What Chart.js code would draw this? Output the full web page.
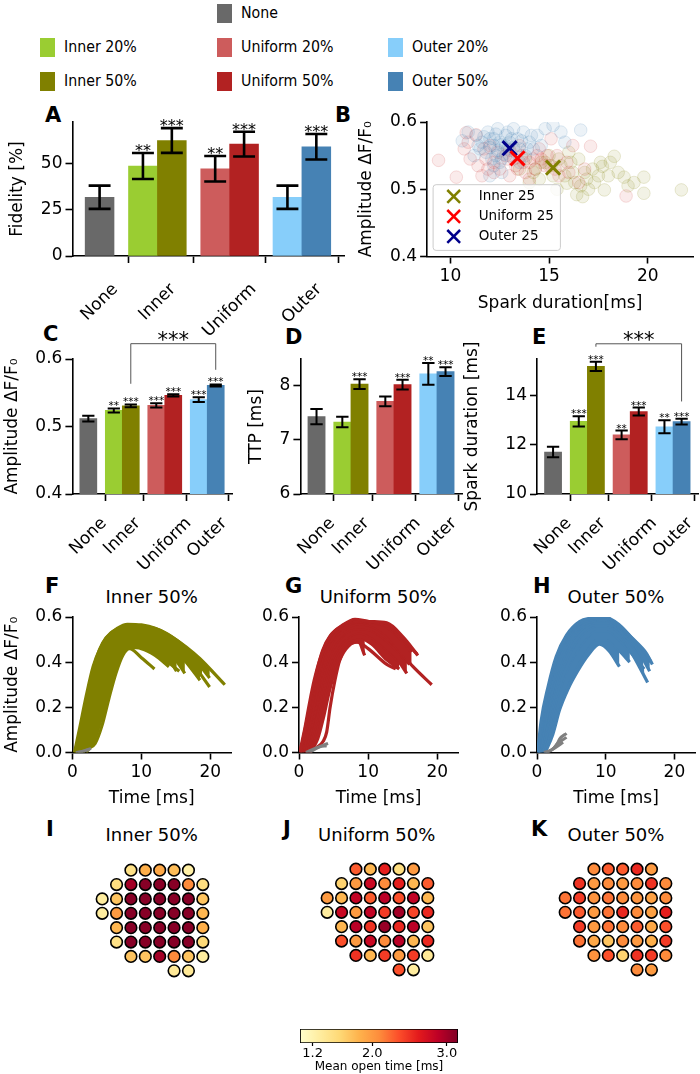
<!DOCTYPE html>
<html>
<head>
<meta charset="utf-8">
<title>Spark summary figure</title>
<script src="https://cdn.jsdelivr.net/npm/chart.js@4.4.1/dist/chart.umd.min.js"></script>
<style>
  html, body { margin: 0; padding: 0; background: #fff; }
  #page { position: relative; width: 700px; height: 1074px; overflow: hidden; font-family: "DejaVu Sans", sans-serif; color: #000; }
  #page canvas { position: absolute; }
  .t { position: absolute; white-space: nowrap; line-height: 1; }
  .sw { position: absolute; width: 15px; height: 19px; }
</style>
</head>
<body>
<div id="page"></div>
<script>
// ---------- data ----------
const legendNames = ["None", "Inner 20%", "Uniform 20%", "Outer 20%", "Inner 50%", "Uniform 50%", "Outer 50%"];
const legendColors = ["#696969", "#9acd32", "#cd5c5c", "#87cefa", "#808000", "#b22222", "#4682b4"];

const groupLabels = ["None", "Inner", "Uniform", "Outer"];
const groupPos = [-0.8, 0, 1, 2];
const barPos = [-0.8, -0.2, 0.2, 0.8, 1.2, 1.8, 2.2];
const barColors = ["#696969", "#9acd32", "#808000", "#cd5c5c", "#b22222", "#87cefa", "#4682b4"];

const fidelity = [31.8, 48.7, 62.5, 47.2, 60.5, 31.8, 59.1];
const fidelityErr = [6.3, 7.0, 6.7, 6.9, 6.7, 6.3, 6.9];
const fidelityStars = ["", "**", "***", "**", "***", "", "***"];

const amplitude = [0.5116, 0.5238, 0.5307, 0.5313, 0.5461, 0.5398, 0.5609];
const amplitudeErr = [0.0042, 0.003, 0.002, 0.0033, 0.0015, 0.0035, 0.0015];
const amplitudeStars = ["", "**", "***", "***", "***", "***", "***"];

const ttp = [7.43, 7.33, 8.03, 7.71, 8.02, 8.22, 8.26];
const ttpErr = [0.14, 0.095, 0.09, 0.09, 0.09, 0.2, 0.08];
const ttpStars = ["", "", "***", "", "***", "**", "***"];

const duration = [11.71, 12.96, 15.2, 12.41, 13.36, 12.74, 12.95];
const durationErr = [0.21, 0.21, 0.185, 0.175, 0.16, 0.26, 0.12];
const durationStars = ["", "***", "***", "**", "***", "**", "***"];

// panel B: spark duration [ms] vs amplitude
const innerCloud = [[13.8,0.545],[14.3,0.53],[14.8,0.54],[15.2,0.52],[15.6,0.535],[15.9,0.509],[16.2,0.525],[16.4,0.492],[16.7,0.489],[16.9,0.515],[17.2,0.53],[17.5,0.52],[17.7,0.534],[17.8,0.499],[18.3,0.549],[18.1,0.54],[18.8,0.518],[19.0,0.505],[19.8,0.518],[19.8,0.494],[21.7,0.499],[16.0,0.555],[15.0,0.55],[14.5,0.515],[16.5,0.545],[17.0,0.5],[15.4,0.5],[13.5,0.53],[18.5,0.525],[14.0,0.51],
  [15.8,0.52],[16.3,0.51],[15.1,0.535],[16.8,0.525],[17.3,0.51],[14.6,0.54],[18.0,0.52],[15.5,0.545],[16.6,0.505],[17.6,0.54],[14.2,0.525],[19.3,0.51],[16.1,0.54]];
const uniformCloud = [[9.4,0.543],[10.3,0.518],[10.8,0.584],[11.3,0.581],[10.7,0.56],[11.0,0.545],[11.4,0.535],[11.8,0.545],[12.2,0.54],[12.5,0.53],[12.9,0.545],[13.3,0.535],[13.6,0.55],[14.0,0.54],[14.3,0.53],[14.6,0.545],[15.0,0.535],[15.4,0.55],[15.9,0.54],[16.2,0.565],[17.1,0.564],[18.9,0.49],[13.0,0.52],[14.0,0.515],[15.5,0.52],[16.5,0.51],[12.0,0.565],[13.5,0.565],[14.5,0.56],[15.1,0.575],[11.6,0.52],[13.8,0.525],[16.8,0.53],
  [12.8,0.55],[13.2,0.545],[13.7,0.54],[14.2,0.545],[14.8,0.535],[12.4,0.555],[13.0,0.558],[11.7,0.56],[14.4,0.55],[15.3,0.53],[13.4,0.53],[12.2,0.525],[14.9,0.55],[10.9,0.57],[11.9,0.53],[16.0,0.525]];
const outerCloud = [[10.6,0.572],[10.9,0.585],[11.3,0.58],[11.6,0.57],[11.9,0.585],[12.2,0.575],[12.4,0.59],[12.6,0.566],[12.8,0.58],[13.0,0.57],[13.2,0.59],[13.4,0.575],[13.7,0.585],[14.0,0.57],[14.4,0.58],[14.8,0.59],[15.2,0.595],[15.6,0.585],[16.6,0.588],[11.8,0.555],[12.3,0.55],[12.6,0.545],[13.0,0.55],[13.3,0.555],[13.8,0.55],[14.2,0.56],[11.5,0.56],[12.0,0.562],[12.9,0.56],[12.2,0.535],[13.5,0.54],[11.2,0.55],[14.6,0.565],[15.8,0.57],[12.0,0.52],[12.6,0.525],
  [12.2,0.565],[12.5,0.57],[12.8,0.565],[13.1,0.575],[12.4,0.558],[12.7,0.552],[13.2,0.562],[12.0,0.575],[11.7,0.578],[13.5,0.56],[12.9,0.585],[12.3,0.582],[13.6,0.572],[11.4,0.565],[14.1,0.58],[12.1,0.545],[13.9,0.56],[12.5,0.54]];
const markerNames = ["Inner 25", "Uniform 25", "Outer 25"];
const markerColors = ["#808000", "#ff0000", "#00008b"];
const markerPoints = [[15.2, 0.532], [13.4, 0.546], [13.0, 0.561]];

// panels F-H: time [ms], amplitude; ordered from earliest to latest rise
const innerTraces = [
  [[0.3,0],[1,0.1],[2,0.25],[3,0.38],[4,0.46],[5,0.51],[6.5,0.55],[8,0.568],[10,0.565],[12,0.55],[14.5,0.51],[16.5,0.467],[18.5,0.415],[22.1,0.3]],
  [[0.4,0],[1.3,0.12],[2.3,0.27],[3.3,0.39],[4.3,0.47],[5.5,0.52],[7,0.55],[8.5,0.56],[10.5,0.555],[12.5,0.535],[15,0.49],[17,0.44],[19.9,0.33]],
  [[0.5,0],[1.4,0.13],[2.4,0.29],[3.4,0.41],[4.4,0.485],[5.6,0.53],[7.2,0.555],[8.8,0.562],[10.8,0.558],[12.8,0.54],[15,0.5],[17,0.45],[18.8,0.4]],
  [[0.6,0],[1.6,0.11],[2.6,0.25],[3.6,0.37],[4.6,0.45],[5.8,0.51],[7.2,0.545],[9,0.555],[11,0.545],[13,0.52],[15,0.47],[17,0.41],[19.9,0.29]],
  [[0.8,0],[1.9,0.1],[2.9,0.23],[3.9,0.35],[4.9,0.44],[6,0.5],[7.5,0.535],[9,0.545],[11,0.535],[13,0.5],[15,0.45],[16.5,0.4],[18.5,0.32]],
  [[1,0],[2.2,0.1],[3.2,0.22],[4.2,0.33],[5.2,0.42],[6.3,0.48],[7.6,0.52],[9.2,0.53],[11,0.515],[13,0.47],[15,0.41],[16.3,0.35]],
  [[1.3,0],[2.5,0.08],[3.5,0.19],[4.5,0.3],[5.5,0.39],[6.6,0.46],[8,0.5],[9.5,0.51],[11.5,0.49],[13.5,0.44],[15.1,0.36]],
  [[1.6,0],[2.8,0.07],[3.8,0.17],[4.8,0.28],[5.8,0.37],[6.8,0.44],[8,0.48],[9.5,0.49],[11.5,0.46],[13.5,0.41],[15.5,0.36]],
  [[2,0],[3.1,0.05],[4.1,0.14],[5.1,0.26],[6.1,0.36],[7.1,0.43],[8.3,0.465],[10,0.46],[12,0.43],[14,0.38]],
  [[2.4,0.02],[3.3,0.04],[4.3,0.12],[5.3,0.24],[6.3,0.35],[7.3,0.43],[8.3,0.46],[10,0.42],[11.9,0.37]]
];
const innerBaseline = [
  [[0.5,0],[1.5,0.005],[2.7,0.018]],
  [[0.8,0],[1.8,0.008],[2.4,0.012]]
];
const uniformTraces = [
  [[0.1,0],[0.8,0.1],[1.5,0.216],[2.2,0.32],[3,0.41],[4.4,0.51],[6.4,0.566],[8.1,0.59],[10.2,0.58],[12.7,0.574],[15.1,0.51],[17.2,0.43]],
  [[0.2,0],[1,0.12],[1.8,0.24],[2.6,0.36],[3.4,0.45],[4.6,0.52],[6.5,0.565],[8.2,0.585],[10.3,0.578],[12.5,0.565],[14.5,0.52],[16.3,0.46],[17.1,0.435]],
  [[0.3,0],[1.1,0.11],[1.9,0.23],[2.7,0.34],[3.5,0.43],[4.8,0.51],[6.6,0.56],[8.3,0.58],[10.5,0.575],[12.5,0.56],[14.5,0.51],[16.3,0.445]],
  [[0.5,0],[1.4,0.11],[2.2,0.22],[3,0.33],[3.8,0.42],[5,0.5],[6.8,0.55],[8.5,0.57],[10.5,0.56],[12.5,0.52],[14.5,0.45],[16.5,0.38],[19.2,0.3]],
  [[0.8,0],[1.7,0.1],[2.5,0.21],[3.3,0.32],[4.2,0.41],[5.3,0.48],[7,0.535],[8.6,0.55],[10.5,0.54],[12.5,0.5],[14.5,0.44],[16,0.39]],
  [[1,0],[2,0.1],[2.8,0.2],[3.6,0.3],[4.5,0.39],[5.6,0.46],[7.1,0.51],[8.7,0.53],[10.5,0.51],[12.5,0.46],[14.5,0.4],[15.6,0.35]],
  [[1.3,0],[2.3,0.08],[3.1,0.18],[3.9,0.28],[4.8,0.37],[5.8,0.44],[7.2,0.49],[8.8,0.505],[10.5,0.48],[12.7,0.41],[14.5,0.37]],
  [[1.6,0],[2.7,0.06],[3.5,0.15],[4.3,0.26],[5.2,0.36],[6.2,0.43],[7.5,0.48],[8.6,0.49],[9.5,0.43]],
  [[2.5,0.02],[3.5,0.05],[4,0.09],[4.5,0.2],[5.2,0.32],[5.9,0.41],[7.3,0.484],[8.3,0.49],[10,0.46],[12.7,0.39],[14,0.37]]
];
const uniformBaseline = [
  [[1,0],[2.5,0.02],[4.2,0.04]],
  [[1.5,0],[3,0.025],[4,0.03]]
];
const outerTraces = [
  [[0.1,0],[0.6,0.14],[1.6,0.29],[2.8,0.425],[4.3,0.52],[6.2,0.58],[8.1,0.596],[9.8,0.6],[12,0.565],[13.9,0.505],[15.9,0.44],[16.8,0.39]],
  [[0.15,0],[0.8,0.15],[1.8,0.3],[3,0.43],[4.5,0.52],[6.4,0.575],[8.2,0.59],[10,0.595],[12,0.56],[14,0.5],[16,0.43],[16.6,0.4]],
  [[0.2,0],[0.9,0.14],[1.9,0.28],[3.1,0.41],[4.6,0.5],[6.5,0.565],[8.3,0.585],[10,0.588],[12,0.555],[14,0.49],[16.4,0.36]],
  [[0.3,0],[1.1,0.12],[2.1,0.26],[3.3,0.38],[4.8,0.48],[6.6,0.55],[8.4,0.575],[10.2,0.575],[12,0.545],[14,0.48],[15.9,0.4]],
  [[0.4,0],[1.2,0.13],[2.2,0.27],[3.4,0.4],[4.9,0.49],[6.7,0.555],[8.5,0.58],[10.2,0.58],[12,0.55],[14,0.47],[15.5,0.42]],
  [[0.5,0],[1.4,0.12],[2.4,0.24],[3.6,0.36],[5.1,0.46],[6.8,0.53],[8.5,0.56],[10.2,0.56],[12,0.53],[14,0.43],[16.1,0.31]],
  [[0.7,0],[1.7,0.11],[2.7,0.22],[3.9,0.33],[5.4,0.43],[7,0.5],[8.6,0.54],[10.2,0.54],[12,0.5],[14,0.43],[15.6,0.37]],
  [[0.9,0],[2,0.1],[3,0.2],[4.3,0.29],[5.7,0.38],[7.2,0.455],[8.6,0.5],[10.2,0.5],[12,0.45],[13.5,0.4]],
  [[1.2,0],[2.3,0.08],[3.3,0.19],[4.5,0.28],[5.9,0.36],[7.4,0.43],[9.1,0.48],[10.5,0.45],[12,0.38]]
];
const outerBaseline = [
  [[1,0],[2,0.01],[2.8,0.03],[3.3,0.06],[4.3,0.085]],
  [[1.2,0],[2.3,0.015],[3,0.04],[4.3,0.067]],
  [[1.5,0],[2.6,0.02],[3.8,0.045]]
];

// panels I-K: channel grid (columns per row) and mean open time [ms]
const gridCols = [[2,3,4,5,6],[1,2,3,4,5,6,7],[0,1,2,3,4,5,6,7],[0,1,2,3,4,5,6,7],[1,2,3,4,5,6,7],[1,2,3,4,5,6,7],[2,3,4,5,6,7],[5,6]];
const innerOpen = [
  [1.45,1.85,1.9,1.75,1.25],
  [1.5,3.0,3.12,3.12,3.12,2.1,1.5],
  [1.3,1.7,3.12,3.12,3.12,3.12,3.12,1.7],
  [1.3,2.0,3.12,3.12,3.12,3.12,3.12,1.8],
  [1.8,3.12,3.12,3.12,3.12,3.12,1.85],
  [1.45,3.12,3.12,3.12,3.12,3.12,1.55],
  [1.7,1.7,3.0,2.1,1.7,1.3],
  [1.35,1.35]
];
const uniformOpen = [
  [2.3,1.8,2.6,1.5,2.0],
  [1.6,2.0,2.8,2.1,2.6,1.8,2.3],
  [2.0,1.8,2.85,2.3,2.9,2.35,2.85,1.8],
  [1.3,2.8,2.0,2.85,2.45,3.0,2.4,2.55],
  [1.8,2.9,2.5,3.05,2.55,2.9,1.7],
  [2.35,2.0,2.8,2.1,2.9,1.8,2.55],
  [2.5,1.8,2.45,2.0,2.45,1.35],
  [2.35,1.3]
];
const outerOpen = [
  [2.1,2.3,2.3,2.55,2.0],
  [2.5,2.0,2.1,2.0,2.1,2.5,2.1],
  [2.2,2.45,2.05,2.2,2.1,2.05,1.95,2.1],
  [2.2,2.3,2.0,2.2,2.55,2.1,1.95,2.6],
  [2.45,2.0,2.2,2.1,2.3,1.9,2.35],
  [2.2,1.9,1.7,2.1,2.0,1.85,2.45],
  [2.05,2.35,1.6,2.5,2.45,2.1],
  [2.1,2.0]
];
const cbTicks = [1.2, 2.0, 3.0];
const cbMin = 1.03, cbMax = 3.15;
const ylOrRd = ["#ffffcc","#ffeda0","#fed976","#feb24c","#fd8d3c","#fc4e2a","#e31a1c","#bd0026","#800026"];

// ---------- helpers ----------
Chart.defaults.font.family = '"DejaVu Sans", sans-serif';
Chart.defaults.color = "#000";
Chart.defaults.layout.autoPadding = false;
const page = document.getElementById("page");
const barXMin = -1.175, barXMax = 2.583;

function hexRgb(h) { return [1, 3, 5].map(i => parseInt(h.slice(i, i + 2), 16)); }
function cmap(v) {
  const t = Math.max(0, Math.min(1, (v - cbMin) / (cbMax - cbMin))) * 8;
  const i = Math.min(7, Math.floor(t)), u = t - i;
  const a = hexRgb(ylOrRd[i]), b = hexRgb(ylOrRd[i + 1]);
  return `rgb(${a.map((c, k) => Math.round(c + (b[k] - c) * u)).join(",")})`;
}

function txt(s, x, y, size, o = {}) {
  const d = document.createElement("div");
  d.className = "t";
  d.textContent = s;
  d.style.fontSize = size + "px";
  d.style.left = x + "px";
  d.style.top = y + "px";
  if (o.bold) d.style.fontWeight = "bold";
  d.style.transformOrigin = "0 50%";
  d.style.transform = o.center ? "translate(-50%,-50%)" : `translateY(-50%)${o.sx ? ` scaleX(${o.sx})` : ""}`;
  page.appendChild(d);
}

function mount(r, m) {
  const c = document.createElement("canvas");
  c.width = Math.round(r.x1 - r.x0 + m.l + m.r);
  c.height = Math.round(r.y1 - r.y0 + m.t + m.b);
  c.style.left = (r.x0 - m.l) + "px";
  c.style.top = (r.y0 - m.t) + "px";
  page.appendChild(c);
  return c;
}

function base(m, padLeft = 0) {
  return {
    responsive: false, animation: false, events: [],
    layout: { autoPadding: false, padding: { left: padLeft, top: m.t, right: m.r, bottom: 0 } },
    plugins: { legend: { display: false }, tooltip: { enabled: false } },
  };
}

function xAxis(min, max, ticks, height, o = {}) {
  return {
    type: "linear", min, max, offset: false,
    afterBuildTicks: s => { s.ticks = ticks.map(v => ({ value: v })); },
    afterFit: s => { s.height = height; s.paddingLeft = 0; s.paddingRight = 0; },
    grid: { drawOnChartArea: false, tickLength: o.tickLength || 7, tickColor: "#000", tickWidth: o.tickWidth || 1.6 },
    border: { display: o.border !== false, color: "#000", width: 1.6 },
    ticks: { display: o.labels !== false, color: "#000", font: { size: o.size || 17 }, padding: o.pad ?? 3, maxRotation: 0, autoSkip: false,
      callback: o.fmt || (v => String(v)) },
    title: o.title ? { display: true, text: o.title, color: "#000", font: { size: o.titleSize || 17 }, padding: 0 } : { display: false },
  };
}

function yAxis(min, max, ticks, width, o = {}) {
  return {
    type: "linear", min, max, position: "left",
    afterBuildTicks: s => { s.ticks = ticks.map(v => ({ value: v })); },
    afterFit: s => { s.width = width; s.paddingTop = 0; s.paddingBottom = 0; },
    grid: { drawOnChartArea: false, tickLength: 7, tickColor: "#000", tickWidth: 1.6 },
    border: { color: "#000", width: 1.6 },
    ticks: { color: "#000", font: { size: 17 }, padding: 3, autoSkip: false, callback: o.fmt || (v => String(v)) },
    title: o.title ? { display: true, text: o.title, color: "#000", font: { size: 17 }, padding: 0 } : { display: false },
  };
}

function errorBars(vals, errs, stars, starSize, capFrac, lw, gap) {
  return {
    id: "errorBars",
    afterDatasetsDraw(chart) {
      const { ctx, scales: { x, y } } = chart;
      const thick = chart.getDatasetMeta(0).data[0].width;
      ctx.save();
      ctx.strokeStyle = "#000";
      ctx.fillStyle = "#000";
      ctx.lineWidth = lw;
      ctx.font = `${starSize}px "DejaVu Sans"`;
      ctx.textAlign = "center";
      ctx.textBaseline = "alphabetic";
      barPos.forEach((p, i) => {
        const px = x.getPixelForValue(p);
        const lo = y.getPixelForValue(vals[i] - errs[i]);
        const hi = y.getPixelForValue(vals[i] + errs[i]);
        const cw = thick * capFrac;
        ctx.beginPath();
        ctx.moveTo(px, lo); ctx.lineTo(px, hi);
        ctx.moveTo(px - cw, lo); ctx.lineTo(px + cw, lo);
        ctx.moveTo(px - cw, hi); ctx.lineTo(px + cw, hi);
        ctx.stroke();
        if (stars[i]) ctx.fillText(stars[i], px, hi + gap);
      });
      ctx.restore();
    },
  };
}

function rotatedLabels(size, drop) {
  return {
    id: "rotatedLabels",
    afterDraw(chart) {
      const { ctx, scales: { x } } = chart;
      ctx.save();
      ctx.font = `${size}px "DejaVu Sans"`;
      ctx.fillStyle = "#000";
      ctx.textAlign = "center";
      ctx.textBaseline = "middle";
      groupPos.forEach((p, i) => {
        const w = ctx.measureText(groupLabels[i]).width;
        const ext = (w + size * 1.1) * Math.SQRT1_2;
        ctx.save();
        ctx.translate(x.getPixelForValue(p), x.top + drop + ext / 2);
        ctx.rotate(-Math.PI / 4);
        ctx.fillText(groupLabels[i], 0, 0);
        ctx.restore();
      });
      ctx.restore();
    },
  };
}

function bracket(top, leftEnd, rightEnd) {
  return {
    id: "bracket",
    afterDraw(chart) {
      const { ctx, scales: { x, y } } = chart;
      const x0 = x.getPixelForValue(barPos[2]), x1 = x.getPixelForValue(barPos[6]);
      const yt = y.getPixelForValue(top);
      ctx.save();
      ctx.strokeStyle = "#555";
      ctx.lineWidth = 1;
      ctx.beginPath();
      ctx.moveTo(x0, y.getPixelForValue(leftEnd)); ctx.lineTo(x0, yt);
      ctx.lineTo(x1, yt); ctx.lineTo(x1, y.getPixelForValue(rightEnd));
      ctx.stroke();
      ctx.fillStyle = "#000";
      ctx.font = '21px "DejaVu Sans"';
      ctx.textAlign = "center";
      ctx.textBaseline = "alphabetic";
      ctx.fillText("***", (x0 + x1) / 2, yt + 3);
      ctx.restore();
    },
  };
}

function barPanel(r, m, vals, errs, stars, ymin, ymax, yticks, ytitle, fmt, small, extra) {
  const cv = mount(r, m);
  const thick = (r.x1 - r.x0) * 0.4 / (barXMax - barXMin);
  const plugins = [
    errorBars(vals, errs, stars, small ? 10.5 : 16, small ? 0.36 : 0.38, small ? 2 : 2.6, small ? 1 : 3),
    rotatedLabels(17, small ? 20 : 24),
  ];
  if (extra) plugins.push(extra);
  return new Chart(cv, {
    type: "bar",
    data: { datasets: [{ data: barPos.map((p, i) => ({ x: p, y: vals[i] })), backgroundColor: barColors, barThickness: thick, borderWidth: 0 }] },
    options: {
      ...base(m),
      scales: {
        x: xAxis(barXMin, barXMax, groupPos, m.b, { labels: false }),
        y: yAxis(ymin, ymax, yticks, m.l, { title: ytitle, fmt }),
      },
    },
    plugins,
  });
}

// traces[0..band-1] form one filled band; later traces stay separate
function tracePanel(r, m, traces, band, grays, color, ytitle) {
  const cv = mount(r, m);
  const datasets = [];
  grays.forEach(g => datasets.push({ data: g.map(([x, y]) => ({ x, y })), borderColor: "#808080", borderWidth: 3, fill: false }));
  traces.forEach((t, i) => datasets.push({
    data: t.map(([x, y]) => ({ x, y })), borderColor: color, backgroundColor: color, borderWidth: 3.2,
    fill: i < band - 1 ? "+1" : false,
  }));
  return new Chart(cv, {
    type: "line",
    data: { datasets },
    options: {
      ...base(m),
      elements: { point: { radius: 0 }, line: { cubicInterpolationMode: "monotone" } },
      plugins: { legend: { display: false }, tooltip: { enabled: false }, filler: { propagate: false } },
      scales: {
        x: xAxis(0, 23, [0, 10, 20], m.b, { title: "Time [ms]" }),
        y: yAxis(0, 0.6, [0, 0.2, 0.4, 0.6], m.l, { title: ytitle, fmt: v => v.toFixed(1) }),
      },
    },
  });
}

function gridPanel(left, top, size, values) {
  const cv = document.createElement("canvas");
  cv.width = Math.round(size); cv.height = Math.round(size);
  cv.style.left = left + "px"; cv.style.top = top + "px";
  page.appendChild(cv);
  const pts = [], fills = [];
  gridCols.forEach((row, ri) => row.forEach((c, k) => { pts.push({ x: c, y: ri }); fills.push(cmap(values[ri][k])); }));
  return new Chart(cv, {
    type: "scatter",
    data: { datasets: [{ data: pts, backgroundColor: fills, borderColor: "#000", borderWidth: 1.6, pointRadius: 5.8, clip: false }] },
    options: {
      ...base({ t: 0, r: 0 }),
      scales: {
        x: { type: "linear", display: false, min: -0.5, max: 7.5 },
        y: { type: "linear", display: false, min: -0.5, max: 7.5, reverse: true },
      },
    },
  });
}

// ---------- top legend ----------
const legendSlots = [[217, 13], [40, 47], [217, 47], [388, 47], [40, 81], [217, 81], [388, 81]];
legendNames.forEach((n, i) => {
  const [x, cy] = legendSlots[i];
  const s = document.createElement("div");
  s.className = "sw";
  s.style.left = x + "px"; s.style.top = (cy - 9.5) + "px"; s.style.background = legendColors[i];
  page.appendChild(s);
  txt(n, x + 23.5, cy, 16.5, { sx: 0.86 });
});

// ---------- panel letters and titles ----------
[["A", 45, 115], ["B", 335, 115], ["C", 43, 333.5], ["D", 285, 336.5], ["E", 532, 336.5],
 ["F", 45, 585.5], ["G", 285, 585.5], ["H", 533, 585.5], ["I", 46, 829], ["J", 283, 829], ["K", 531, 828.5]]
  .forEach(([s, x, y]) => txt(s, x, y, 21, { bold: true }));
[["Inner 50%", 151.7, 597], ["Uniform 50%", 378.3, 597], ["Outer 50%", 616, 597],
 ["Inner 50%", 151.7, 835], ["Uniform 50%", 376.7, 835], ["Outer 50%", 616, 835]]
  .forEach(([s, x, y]) => txt(s, x, y, 18, { center: true }));

// ---------- A ----------
barPanel({ x0: 72, y0: 122.3, x1: 343, y1: 256.7 }, { l: 65.5, t: 4, r: 4, b: 85 },
  fidelity, fidelityErr, fidelityStars, 0, 72.5, [0, 25, 50], "Fidelity [%]", v => String(v), false);

// ---------- B ----------
(function () {
  const r = { x0: 426.7, y0: 122.3, x1: 693, y1: 256.7 }, m = { l: 71.1, t: 10, r: 6, b: 57.5 };
  const cv = mount(r, m);
  const cloud = (pts, rgb) => ({
    data: pts.map(([x, y]) => ({ x, y })), pointRadius: 6.3,
    backgroundColor: `rgba(${rgb},0.1)`, borderColor: `rgba(${rgb},0.16)`, borderWidth: 1,
  });
  const legendPlugin = {
    id: "bLegend",
    afterDraw(chart) {
      const { ctx, chartArea: a } = chart;
      const bx = a.left + 6, by = a.top + 62.7;
      ctx.save();
      ctx.fillStyle = "rgba(255,255,255,0.8)";
      ctx.strokeStyle = "#cccccc";
      ctx.lineWidth = 1;
      ctx.beginPath();
      ctx.roundRect(bx, by, 127.3, 65.7, 3);
      ctx.fill(); ctx.stroke();
      ctx.font = '13.5px "DejaVu Sans"';
      ctx.textBaseline = "middle";
      markerNames.forEach((n, i) => {
        const cy = by + 11.7 + i * 20;
        ctx.strokeStyle = markerColors[i];
        ctx.lineWidth = 2.5;
        ctx.beginPath();
        ctx.moveTo(bx + 14.2, cy - 6.4); ctx.lineTo(bx + 27, cy + 6.4);
        ctx.moveTo(bx + 14.2, cy + 6.4); ctx.lineTo(bx + 27, cy - 6.4);
        ctx.stroke();
        ctx.fillStyle = "#000";
        ctx.fillText(n, bx + 45.6, cy);
      });
      ctx.restore();
    },
  };
  new Chart(cv, {
    type: "scatter",
    data: {
      datasets: [
        ...markerPoints.map(([x, y], i) => ({ data: [{ x, y }], pointStyle: "crossRot", pointRadius: 10, borderColor: markerColors[i], borderWidth: 3 })),
        cloud(outerCloud, "70,130,180"),
        cloud(uniformCloud, "205,60,60"),
        cloud(innerCloud, "128,128,0"),
      ],
    },
    options: {
      ...base(m),
      scales: {
        x: xAxis(8.82, 22.29, [10, 15, 20], m.b, { title: "Spark duration[ms]" }),
        y: yAxis(0.4, 0.6, [0.4, 0.5, 0.6], m.l, { title: "Amplitude ΔF/F₀", fmt: v => v.toFixed(1) }),
      },
    },
    plugins: [legendPlugin],
  });
})();

// ---------- C, D, E ----------
barPanel({ x0: 72.7, y0: 359.3, x1: 232.5, y1: 494 }, { l: 70.4, t: 36, r: 8, b: 85 },
  amplitude, amplitudeErr, amplitudeStars, 0.4, 0.6, [0.4, 0.5, 0.6], "Amplitude ΔF/F₀", v => v.toFixed(1), true,
  bracket(0.6227, 0.5633, 0.584));
barPanel({ x0: 300, y0: 359.3, x1: 461.6, y1: 494 }, { l: 54.4, t: 36, r: 8, b: 85 },
  ttp, ttpErr, ttpStars, 6, 8.494, [6, 7, 8], "TTP [ms]", v => String(v), true);
barPanel({ x0: 537.3, y0: 359.3, x1: 698, y1: 494 }, { l: 75, t: 36, r: 2, b: 85 },
  duration, durationErr, durationStars, 10, 15.5, [10, 12, 14], "Spark duration [ms]", v => String(v), true,
  bracket(16.12, 16.0, 13.77));

// ---------- F, G, H ----------
tracePanel({ x0: 72.7, y0: 616.7, x1: 231.7, y1: 751.7 }, { l: 70.4, t: 12, r: 8, b: 56.5 }, innerTraces, 9, innerBaseline, "#808000", "Amplitude ΔF/F₀");
tracePanel({ x0: 299.3, y0: 616.7, x1: 458.3, y1: 751.7 }, { l: 50, t: 12, r: 8, b: 56.5 }, uniformTraces, 8, uniformBaseline, "#b22222", null);
tracePanel({ x0: 537.3, y0: 616.7, x1: 695.6, y1: 751.7 }, { l: 50, t: 12, r: 4, b: 56.5 }, outerTraces, 9, outerBaseline, "#4682b4", null);

// ---------- I, J, K ----------
gridPanel(95.1, 862.8, 114.7, innerOpen);
gridPanel(320.1, 862.1, 114.7, uniformOpen);
gridPanel(557.8, 862.1, 114.7, outerOpen);

// ---------- colorbar ----------
(function () {
  const r = { x0: 300, y0: 1029, x1: 458, y1: 1043 }, m = { l: 12, t: 2, r: 12, b: 31 };
  const cv = mount(r, m);
  new Chart(cv, {
    type: "bar",
    data: {
      labels: [""],
      datasets: [{
        data: [[cbMin, cbMax]],
        backgroundColor: c => {
          const { ctx, chartArea } = c.chart;
          if (!chartArea) return "#fff";
          const g = ctx.createLinearGradient(chartArea.left, 0, chartArea.right, 0);
          ylOrRd.forEach((s, i) => g.addColorStop(i / 8, s));
          return g;
        },
        borderColor: "#000", borderWidth: 1.2, borderSkipped: false, barPercentage: 1, categoryPercentage: 1,
      }],
    },
    options: {
      ...base(m, m.l),
      indexAxis: "y",
      scales: {
        x: xAxis(cbMin, cbMax, cbTicks, m.b, { border: false, tickLength: 3, tickWidth: 1.2, size: 13, pad: 0, fmt: v => v.toFixed(1), title: "Mean open time [ms]", titleSize: 12 }),
        y: { type: "category", display: false },
      },
    },
  });
})();
</script>
</body>
</html>
